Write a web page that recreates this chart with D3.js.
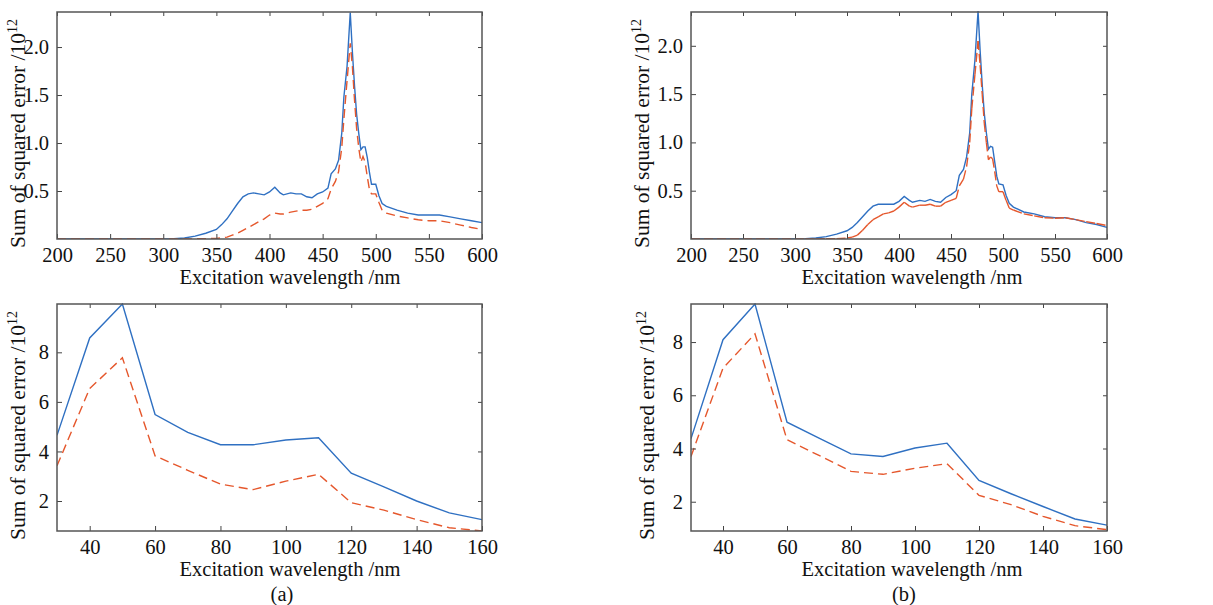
<!DOCTYPE html>
<html>
<head>
<meta charset="utf-8">
<script src="https://cdn.jsdelivr.net/npm/d3@7"></script>
<style>
  body { margin: 0; background: #fff; }
  svg text { font-family: "Liberation Serif", "DejaVu Serif", serif; fill: #111; }
</style>
</head>
<body>
<div id="chart"></div>
<script>
// Top row: excitation wavelength sweep (nm)
var wlTop = [200, 250, 300, 310, 320, 330, 340, 350, 355, 360, 365, 370, 375, 380, 385, 390, 395, 400,
  405, 410, 413, 420, 425, 430, 435, 440, 445, 450, 455, 458, 462, 465, 468, 470, 473, 476, 478, 480,
  482, 484, 486, 488, 490, 492, 494, 496, 500, 503, 506, 510, 520, 530, 540, 550, 560, 570, 580, 590, 600];

var blueTopA = [0, 0, 0, 0.003, 0.01, 0.03, 0.06, 0.10, 0.15, 0.21, 0.29, 0.37, 0.44, 0.47, 0.48, 0.47, 0.46, 0.49,
  0.54, 0.48, 0.46, 0.48, 0.47, 0.47, 0.44, 0.43, 0.47, 0.49, 0.53, 0.68, 0.73, 0.82, 1.10, 1.48, 1.80, 2.36, 1.95, 1.60,
  1.30, 1.10, 0.93, 0.96, 0.96, 0.85, 0.70, 0.57, 0.57, 0.45, 0.37, 0.34, 0.30, 0.27, 0.25, 0.25, 0.25, 0.23, 0.21, 0.19, 0.17];
var redTopA = [0, 0, 0, 0, 0.001, 0.002, 0.003, 0.006, 0.012, 0.02, 0.04, 0.06, 0.09, 0.12, 0.15, 0.18, 0.21, 0.25,
  0.27, 0.26, 0.26, 0.28, 0.29, 0.30, 0.30, 0.31, 0.34, 0.37, 0.42, 0.52, 0.60, 0.70, 0.95, 1.25, 1.65, 2.04, 1.80, 1.45,
  1.15, 0.95, 0.80, 0.86, 0.80, 0.65, 0.52, 0.47, 0.47, 0.38, 0.30, 0.27, 0.24, 0.22, 0.20, 0.19, 0.19, 0.17, 0.145, 0.12, 0.10];

var blueTopB = [0, 0, 0, 0.003, 0.01, 0.025, 0.05, 0.085, 0.12, 0.17, 0.23, 0.29, 0.34, 0.36, 0.36, 0.36, 0.36, 0.39,
  0.44, 0.40, 0.38, 0.40, 0.39, 0.41, 0.39, 0.38, 0.43, 0.46, 0.50, 0.66, 0.72, 0.85, 1.10, 1.50, 1.85, 2.36, 1.95, 1.60,
  1.30, 1.10, 0.93, 0.96, 0.95, 0.80, 0.65, 0.57, 0.56, 0.45, 0.37, 0.33, 0.28, 0.26, 0.23, 0.22, 0.22, 0.20, 0.17, 0.15, 0.12];
var redTopB = [0, 0, 0, 0, 0.001, 0.002, 0.004, 0.01, 0.02, 0.04, 0.09, 0.15, 0.20, 0.23, 0.26, 0.27, 0.29, 0.33,
  0.38, 0.34, 0.33, 0.35, 0.35, 0.36, 0.34, 0.34, 0.38, 0.40, 0.42, 0.55, 0.62, 0.75, 1.00, 1.35, 1.70, 2.05, 1.80, 1.50,
  1.20, 1.00, 0.82, 0.85, 0.83, 0.70, 0.55, 0.49, 0.49, 0.40, 0.32, 0.30, 0.26, 0.24, 0.22, 0.215, 0.22, 0.20, 0.18, 0.16, 0.14];

// Bottom row
var wlBottom = [30, 40, 50, 60, 70, 80, 90, 100, 110, 120, 130, 140, 150, 160];
var blueBottomA = [4.65, 8.58, 9.95, 5.49, 4.77, 4.27, 4.27, 4.46, 4.55, 3.12, 2.57, 2.0, 1.52, 1.25];
var redBottomA = [3.42, 6.54, 7.78, 3.82, 3.24, 2.68, 2.46, 2.80, 3.08, 1.93, 1.63, 1.25, 0.92, 0.79];
var blueBottomB = [4.37, 8.09, 9.43, 4.99, 4.39, 3.80, 3.70, 4.02, 4.20, 2.80, 2.30, 1.82, 1.35, 1.12];
var redBottomB = [3.70, 7.02, 8.31, 4.33, 3.74, 3.14, 3.03, 3.26, 3.43, 2.24, 1.89, 1.45, 1.10, 0.95];

var topXTicks = [200, 250, 300, 350, 400, 450, 500, 550, 600];
var topYTicks = [0.5, 1.0, 1.5, 2.0];
var bottomXTicks = [40, 60, 80, 100, 120, 140, 160];
var bottomYTicks = [2, 4, 6, 8];

var blue = "#2f70c2", red = "#e5572c";

var svg = d3.select("#chart").append("svg")
  .attr("width", 1213)
  .attr("height", 605);

function panel(o) {
  var x = d3.scaleLinear().domain(o.xDomain).range([o.left, o.right]);
  var y = d3.scaleLinear().domain(o.yDomain).range([o.bottom, o.top]);
  var g = svg.append("g");

  var pts = function (xs, ys) { return xs.map(function (v, i) { return [v, ys[i]]; }); };
  var line = d3.line().x(d => x(d[0])).y(d => y(d[1]));

  // clip to the axes box
  var cid = "clip" + o.id;
  g.append("clipPath").attr("id", cid).append("rect")
    .attr("x", o.left).attr("y", o.top - 1)
    .attr("width", o.right - o.left).attr("height", o.bottom - o.top + 1);

  var plot = g.append("g").attr("clip-path", "url(#" + cid + ")");
  plot.append("path")
    .attr("d", line(pts(o.xs, o.blue)))
    .attr("fill", "none").attr("stroke", blue).attr("stroke-width", 1.4);

  var redPts = pts(o.xs, o.red);
  if (o.segmentDash) {
    // dash pattern restarts on every segment
    plot.selectAll(".seg").data(d3.pairs(redPts)).join("path")
      .attr("d", d => line(d))
      .attr("fill", "none").attr("stroke", red).attr("stroke-width", 1.4)
      .attr("stroke-dasharray", "9,4");
  } else {
    plot.append("path")
      .attr("d", line(redPts))
      .attr("fill", "none").attr("stroke", red).attr("stroke-width", 1.4)
      .attr("stroke-dasharray", "9,5");
  }

  // axes with inward ticks on all four sides
  g.append("g").attr("transform", `translate(0,${o.bottom})`)
    .call(d3.axisBottom(x).tickValues(o.xTicks).tickSizeInner(-5).tickSizeOuter(0).tickPadding(8).tickFormat(d3.format("d")));
  g.append("g").attr("transform", `translate(0,${o.top})`)
    .call(d3.axisTop(x).tickValues(o.xTicks).tickSizeInner(-4).tickSizeOuter(0).tickFormat(""));
  g.append("g").attr("transform", `translate(${o.left},0)`)
    .call(d3.axisLeft(y).tickValues(o.yTicks).tickSizeInner(-5).tickSizeOuter(0).tickPadding(8).tickFormat(o.yFormat));
  g.append("g").attr("transform", `translate(${o.right},0)`)
    .call(d3.axisRight(y).tickValues(o.yTicks).tickSizeInner(-4).tickSizeOuter(0).tickFormat(""));

  g.selectAll(".domain").remove();
  g.selectAll(".tick line").attr("stroke", "#444");
  g.selectAll(".tick text").attr("font-family", "Liberation Serif").attr("font-size", 20.5).attr("fill", "#111");

  g.append("rect")
    .attr("x", o.left).attr("y", o.top)
    .attr("width", o.right - o.left).attr("height", o.bottom - o.top)
    .attr("fill", "none").attr("stroke", "#555").attr("stroke-width", 1.5);

  g.append("text")
    .attr("x", o.xLabelX).attr("y", o.bottom + 45)
    .attr("text-anchor", "middle").attr("font-size", 20.5)
    .text("Excitation wavelength /nm");

  var yl = g.append("text")
    .attr("transform", `translate(${o.yLabelX},${(o.top + o.bottom) / 2 + 8}) rotate(-90)`)
    .attr("text-anchor", "middle").attr("font-size", 21.5);
  yl.append("tspan").text("Sum of squared error /10");
  yl.append("tspan").attr("dy", -8).attr("font-size", 14).text("12");

  if (o.caption) {
    g.append("text")
      .attr("x", o.xLabelX - 8).attr("y", o.bottom + 70)
      .attr("text-anchor", "middle").attr("font-size", 20.5)
      .text(o.caption);
  }
}

panel({ id: "ta", left: 57, right: 482, top: 12, bottom: 239, xDomain: [200, 600], yDomain: [0, 2.365],
  xs: wlTop, blue: blueTopA, red: redTopA, xTicks: topXTicks, yTicks: topYTicks, yFormat: d3.format(".1f"),
  xLabelX: 290, yLabelX: 25 });
panel({ id: "tb", left: 691, right: 1107, top: 12, bottom: 239, xDomain: [200, 600], yDomain: [0, 2.35],
  xs: wlTop, blue: blueTopB, red: redTopB, xTicks: topXTicks, yTicks: topYTicks, yFormat: d3.format(".1f"),
  xLabelX: 912, yLabelX: 649, segmentDash: true });
panel({ id: "ba", left: 57, right: 482, top: 304, bottom: 531, xDomain: [30, 160], yDomain: [0.79, 9.95],
  xs: wlBottom, blue: blueBottomA, red: redBottomA, xTicks: bottomXTicks, yTicks: bottomYTicks, yFormat: d3.format("d"),
  xLabelX: 290, yLabelX: 25, caption: "(a)" });
panel({ id: "bb", left: 691, right: 1107, top: 304, bottom: 531, xDomain: [30, 160], yDomain: [0.9, 9.43],
  xs: wlBottom, blue: blueBottomB, red: redBottomB, xTicks: bottomXTicks, yTicks: bottomYTicks, yFormat: d3.format("d"),
  xLabelX: 912, yLabelX: 654, caption: "(b)" });
</script>
</body>
</html>
